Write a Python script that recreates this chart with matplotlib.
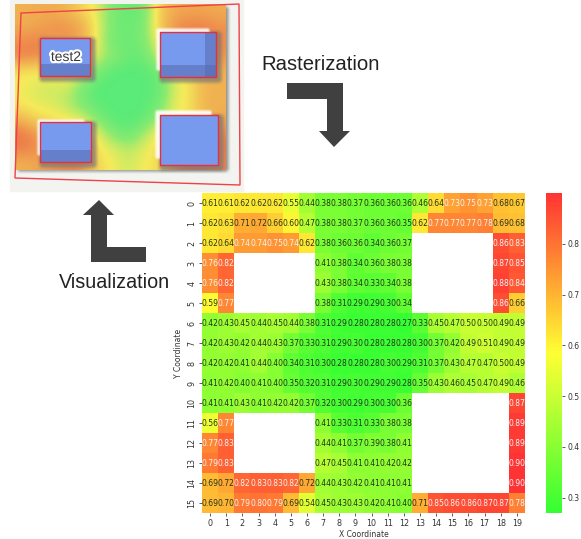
import numpy as np
import matplotlib
matplotlib.use("Agg")
import matplotlib.pyplot as plt
import matplotlib.patheffects as pe
from matplotlib.colors import LinearSegmentedColormap, to_rgb
from matplotlib.patches import Polygon, Rectangle
import seaborn as sns

nan = np.nan

# Heatmap values, row by row (holes are the rooms)
row_00 = [.61, .61, .62, .62, .62, .55, .44, .38, .38, .37, .36, .36, .36, .46, .64, .73, .75, .73, .68, .67]
row_01 = [.62, .63, .71, .72, .66, .60, .47, .38, .38, .37, .36, .36, .35, .62, .77, .77, .77, .78, .69, .68]
row_02 = [.62, .64, .74, .74, .75, .74, .62, .38, .36, .36, .34, .36, .37, nan, nan, nan, nan, nan, .86, .83]
row_03 = [.76, .82, nan, nan, nan, nan, nan, .41, .38, .34, .36, .38, .38, nan, nan, nan, nan, nan, .87, .85]
row_04 = [.76, .82, nan, nan, nan, nan, nan, .43, .38, .34, .33, .34, .38, nan, nan, nan, nan, nan, .88, .84]
row_05 = [.59, .77, nan, nan, nan, nan, nan, .38, .31, .29, .29, .30, .34, nan, nan, nan, nan, nan, .86, .66]
row_06 = [.42, .43, .45, .44, .45, .44, .38, .31, .29, .28, .28, .28, .27, .33, .45, .47, .50, .50, .49, .49]
row_07 = [.42, .43, .42, .44, .43, .37, .33, .31, .29, .30, .28, .28, .28, .30, .37, .42, .49, .51, .49, .49]
row_08 = [.42, .42, .41, .44, .40, .34, .31, .30, .28, .28, .28, .30, .29, .31, .37, .43, .47, .47, .50, .49]
row_09 = [.41, .42, .40, .41, .40, .35, .32, .31, .29, .30, .29, .29, .28, .35, .43, .46, .45, .47, .49, .46]
row_10 = [.41, .41, .43, .41, .42, .42, .37, .32, .30, .29, .30, .30, .36, nan, nan, nan, nan, nan, nan, .87]
row_11 = [.56, .77, nan, nan, nan, nan, nan, .41, .33, .31, .33, .38, .38, nan, nan, nan, nan, nan, nan, .89]
row_12 = [.77, .83, nan, nan, nan, nan, nan, .44, .41, .37, .39, .38, .41, nan, nan, nan, nan, nan, nan, .89]
row_13 = [.79, .83, nan, nan, nan, nan, nan, .47, .45, .41, .41, .42, .42, nan, nan, nan, nan, nan, nan, .90]
row_14 = [.69, .72, .82, .83, .83, .82, .72, .44, .43, .42, .41, .41, .41, nan, nan, nan, nan, nan, nan, .90]
row_15 = [.69, .70, .79, .80, .79, .69, .54, .45, .43, .43, .42, .41, .40, .71, .85, .86, .86, .87, .87, .78]
x_labels = list(range(20))
y_labels = list(range(16))
cbar_ticks = [.3, .4, .5, .6, .7, .8]

# Screenshot in the top left, rough heat levels (0 green, .5 yellow, 1 red)
floor_heat = [
    [.72, .74, .74, .70, .58, .45, .15, .05, .10, .60, .74, .76, .76, .74],
    [.74, .76, .82, .82, .76, .48, .15, .10, .15, .62, .82, .88, .88, .82],
    [.84, .88, .80, .80, .74, .46, .12, .10, .15, .50, .80, .85, .92, .85],
    [.88, .85, .80, .80, .62, .42, .25, .08, .08, .40, .75, .80, .82, .82],
    [.52, .50, .54, .54, .42, .15, .00, .00, .00, .08, .46, .56, .72, .72],
    [.50, .44, .40, .44, .18, .00, .00, .00, .00, .04, .42, .52, .70, .72],
    [.50, .44, .44, .34, .15, .00, .00, .00, .00, .08, .46, .52, .72, .72],
    [.68, .56, .52, .48, .42, .18, .00, .00, .00, .30, .48, .52, .68, .74],
    [.90, .78, .68, .68, .66, .46, .20, .05, .30, .50, .78, .84, .84, .85],
    [.90, .84, .78, .78, .78, .52, .44, .34, .44, .56, .80, .90, .90, .90],
    [.72, .76, .80, .86, .84, .56, .50, .40, .50, .54, .80, .92, .92, .86],
]

heat_cmap = LinearSegmentedColormap.from_list("gyr", ["#33ff33", "#ffff33", "#ff3333"])
floor_cmap = LinearSegmentedColormap.from_list(
    "floor", [(0, "#5aeb78"), (.25, "#8cea70"), (.5, "#f5eb5a"), (.75, "#f0aa50"), (1, "#eb5a46")])

fig = plt.figure(figsize=(5.81, 5.39), dpi=100)


def px_axes(x0, y0, x1, y1):
    # axes placed with pixel positions, y measured from the top
    return fig.add_axes([x0 / 581, 1 - y1 / 539, (x1 - x0) / 581, (y1 - y0) / 539])


def soft_box(axis, box, color, blur, peak, zorder):
    # rectangle with a feathered edge, drawn as an alpha image
    x0, y0, x1, y1 = box
    pad = blur * 2
    xs = np.arange(x0 - pad, x1 + pad + 1)
    ys = np.arange(y0 - pad, y1 + pad + 1)
    ramp_x = np.clip(np.minimum(xs - x0, x1 - xs) / (2 * blur) + .5, 0, 1)
    ramp_y = np.clip(np.minimum(ys - y0, y1 - ys) / (2 * blur) + .5, 0, 1)
    alpha = np.outer(ramp_y, ramp_x)
    alpha = alpha * alpha * (3 - 2 * alpha) * peak
    rgba = np.zeros(alpha.shape + (4,))
    rgba[..., :3] = to_rgb(color)
    rgba[..., 3] = alpha
    axis.imshow(rgba, extent=(xs[0], xs[-1], ys[-1], ys[0]), aspect="auto",
                interpolation="bilinear", zorder=zorder)


# Overlay in pixel coordinates for the screenshot, arrows and captions
bg = px_axes(0, 0, 581, 539)
bg.axis("off")

bg.add_patch(Rectangle((10, 0), 233, 191, color="#f3f3ef", zorder=0))
soft_box(bg, (17, 6, 229, 172), "#8a8a8a", 3, .9, 1)
bg.imshow(floor_heat, cmap=floor_cmap, vmin=0, vmax=1, interpolation="bicubic",
          extent=(15, 226, 170, 4), aspect="auto", zorder=2)

# x0, y0, x1, y1, halo shift, shade height at the bottom, shade width at the right
rooms = [(40, 38, 90, 76, 0, 12, 0), (160, 32, 216, 77, 3, 12, 11),
         (40, 122, 91, 162, 2, 12, 0), (160, 115, 218, 165, 4, 0, 0)]
for x0, y0, x1, y1, shift, shade_h, shade_w in rooms:
    soft_box(bg, (x0 - 1, y0 - 1, x1 + 6, y1 + 6), "#777777", 3, .7, 3)
    if shift:
        soft_box(bg, (x0 - shift - 1, y0 - shift - 1, x1 - 6, y1 - 6), "#ffffff", 2, .9, 3)
    bg.add_patch(Rectangle((x0, y0), x1 - x0, y1 - y0, fc="#7799ee", ec="none", zorder=4))
    if shade_h:
        bg.add_patch(Rectangle((x0, y1 - shade_h), x1 - x0, shade_h, fc="#5566aa", alpha=.5, ec="none", zorder=5))
    if shade_w:
        bg.add_patch(Rectangle((x1 - shade_w, y0), shade_w, y1 - y0, fc="#5566aa", alpha=.5, ec="none", zorder=5))
    bg.add_patch(Rectangle((x0, y0), x1 - x0, y1 - y0, fc="none", ec="#e8303c", lw=1.0, zorder=6))

bg.add_patch(Polygon([(21, 13), (239, 4), (240, 185), (15, 178)], closed=True, fc="none",
                     ec="#f04048", lw=1.0, zorder=7))
bg.text(66, 57, "test2", ha="center", va="center", fontsize=10, color="#3a3a3a", zorder=8,
        family="Liberation Sans",
        path_effects=[pe.withStroke(linewidth=3, foreground="white")])

# Arrows between the two views
bg.add_patch(Polygon([(287, 83), (343, 83), (343, 131), (350, 131), (334, 147), (319, 131),
                      (327, 131), (327, 99), (287, 99)], closed=True, fc="#404040", ec="none"))
bg.add_patch(Polygon([(99, 200), (114, 215), (107, 215), (107, 247), (146, 247), (146, 262),
                      (91, 262), (91, 215), (83, 215)], closed=True, fc="#404040", ec="none"))
bg.text(320.5, 64, "Rasterization", ha="center", va="center", fontsize=14.6,
        family="Liberation Sans", color="#222222")
bg.text(114.5, 283, "Visualization", ha="center", va="center", fontsize=14.2,
        family="Liberation Sans", color="#222222")
bg.set_xlim(0, 581)
bg.set_ylim(539, 0)

# Heatmap
values = np.array([row_00, row_01, row_02, row_03, row_04, row_05, row_06, row_07,
                   row_08, row_09, row_10, row_11, row_12, row_13, row_14, row_15])
ax = px_axes(202, 193, 525, 513)
cax = px_axes(546, 193, 562, 513)
sns.heatmap(values, ax=ax, cbar_ax=cax, cmap=heat_cmap, annot=True, fmt=".2f",
            annot_kws={"size": 5.5}, xticklabels=x_labels, yticklabels=y_labels)
for label in ax.texts:
    label.set_color("#f4f4f4" if float(label.get_text()) >= .73 else "#26331c")
ax.tick_params(labelsize=5.8, length=2, width=.6, pad=2, color="#444444", labelcolor="#333333")
ax.tick_params(axis="x", labelrotation=0)
ax.set_xlabel("X Coordinate", fontsize=5.5, labelpad=2, color="#333333")
ax.set_ylabel("Y Coordinate", fontsize=5.5, labelpad=3, color="#333333")
cax.set_yticks(cbar_ticks)
cax.tick_params(labelsize=5.5, length=2, width=.6, pad=2, color="#444444", labelcolor="#333333")

fig.savefig("out.png", dpi=100)
